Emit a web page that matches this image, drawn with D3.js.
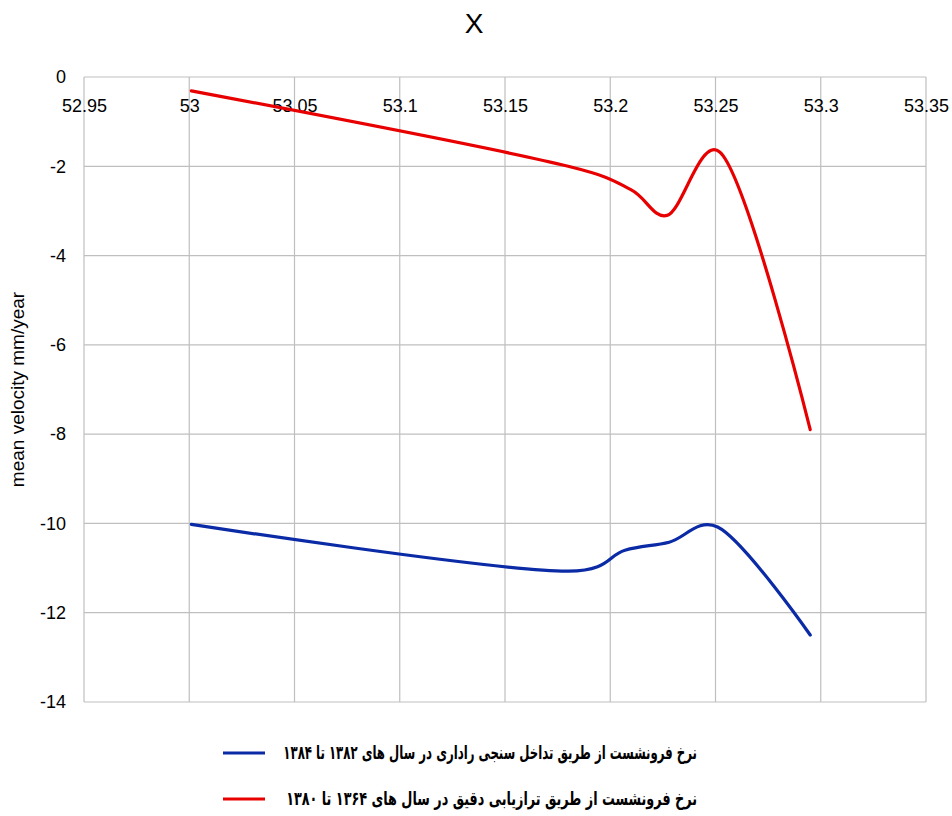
<!DOCTYPE html>
<html>
<head>
<meta charset="utf-8">
<script src="https://cdn.jsdelivr.net/npm/d3@7"></script>
<style>
  body { margin: 0; background: #fff; }
  text { font-family: "Liberation Sans", Arial, sans-serif; }
</style>
</head>
<body>
<div id="chart"></div>
<script>
// x positions (longitude-ish) of the sampled points
const redX = [53.001, 53.18, 53.21, 53.227, 53.252, 53.295]
const redY = [-0.31, -2.0, -2.53, -3.1, -1.68, -7.9]
const blueX = [53.001, 53.18, 53.207, 53.228, 53.251, 53.295]
const blueY = [-10.02, -11.07, -10.6, -10.42, -10.08, -12.5]

const xTicks = [52.95, 53, 53.05, 53.1, 53.15, 53.2, 53.25, 53.3, 53.35]
const yTicks = [0, -2, -4, -6, -8, -10, -12, -14]

const legendLabels = [
  'نرخ فرونشست از طریق تداخل سنجی راداری در سال های ۱۳۸۲ تا ۱۳۸۴',
  'نرخ فرونشست از طریق ترازیابی دقیق در سال های ۱۳۶۴ تا ۱۳۸۰'
]
const legendWidths = [414, 411]
const colors = ['#0a2aa6', '#e80000']

const svgWidth = 952, svgHeight = 816
const margin = { top: 77, right: 26, bottom: 114, left: 84 }
const width = svgWidth - margin.left - margin.right
const height = svgHeight - margin.top - margin.bottom

const svg = d3.select('#chart')
  .append('svg')
  .attr('width', svgWidth)
  .attr('height', svgHeight)

// title
svg.append('text')
  .attr('x', 474)
  .attr('y', 33)
  .attr('text-anchor', 'middle')
  .attr('font-size', 28)
  .text('X')

const g = svg.append('g')
  .attr('transform', 'translate(' + margin.left + ',' + margin.top + ')')

const x = d3.scaleLinear().domain([52.95, 53.35]).range([0, width])
const y = d3.scaleLinear().domain([-14, 0]).range([height, 0])

// grid
g.append('g')
  .selectAll('line')
  .data(xTicks)
  .enter()
  .append('line')
  .attr('x1', d => x(d)).attr('x2', d => x(d))
  .attr('y1', 0).attr('y2', height)
  .attr('stroke', '#bfbfbf')
  .attr('stroke-width', 1.2)

g.append('g')
  .selectAll('line')
  .data(yTicks)
  .enter()
  .append('line')
  .attr('x1', 0).attr('x2', width)
  .attr('y1', d => y(d)).attr('y2', d => y(d))
  .attr('stroke', '#bfbfbf')
  .attr('stroke-width', 1.2)

// X - Axis (labels sit under the top edge)
const xAxis = g.append('g')
  .call(d3.axisBottom(x).tickValues(xTicks).tickSize(0).tickPadding(22).tickFormat(d => String(d)))
xAxis.select('.domain').remove()
xAxis.selectAll('text')
  .attr('font-size', 18)
  .attr('fill', '#000')
  .style('font-family', '"Liberation Sans", Arial, sans-serif')

// Y - Axis
const yAxis = g.append('g')
  .call(d3.axisLeft(y).tickValues(yTicks).tickSize(0).tickPadding(18).tickFormat(d => String(d)))
yAxis.select('.domain').remove()
yAxis.selectAll('text')
  .attr('font-size', 18)
  .attr('fill', '#000')
  .style('font-family', '"Liberation Sans", Arial, sans-serif')

g.append('text')
  .attr('transform', 'rotate(-90)')
  .attr('x', -height / 2 + 0)
  .attr('y', -60)
  .attr('text-anchor', 'middle')
  .attr('font-size', 19)
  .text('mean velocity mm/year')

const line = d3.line()
  .x(d => x(d[0]))
  .y(d => y(d[1]))
  .curve(d3.curveCatmullRom.alpha(0.25))

const series = [d3.zip(blueX, blueY), d3.zip(redX, redY)]

series.map((s, i) => (
  g.append('path')
    .datum(s)
    .attr('fill', 'none')
    .attr('stroke', colors[i])
    .attr('stroke-width', 3.2)
    .attr('stroke-linejoin', 'round')
    .attr('stroke-linecap', 'round')
    .attr('d', line)
))

// legend
const legend = svg.append('g')
legendLabels.forEach((lab, i) => {
  const ly = 753 + i * 46
  legend.append('line')
    .attr('x1', 223).attr('x2', 265)
    .attr('y1', ly).attr('y2', ly)
    .attr('stroke', colors[i])
    .attr('stroke-width', 3.2)
  const t = legend.append('text')
    .attr('x', 0)
    .attr('y', 0)
    .attr('text-anchor', 'end')
    .attr('font-size', 19)
    .attr('font-weight', 'bold')
    .style('font-family', '"DejaVu Sans", sans-serif')
    .text(lab)
  // squeeze the wide fallback font into the box the legend uses
  const w = t.node().getComputedTextLength()
  const k = Math.min(1, legendWidths[i] / w)
  t.attr('transform', 'translate(697,' + (ly + 6) + ') scale(' + k + ',1)')
})
</script>
</body>
</html>
